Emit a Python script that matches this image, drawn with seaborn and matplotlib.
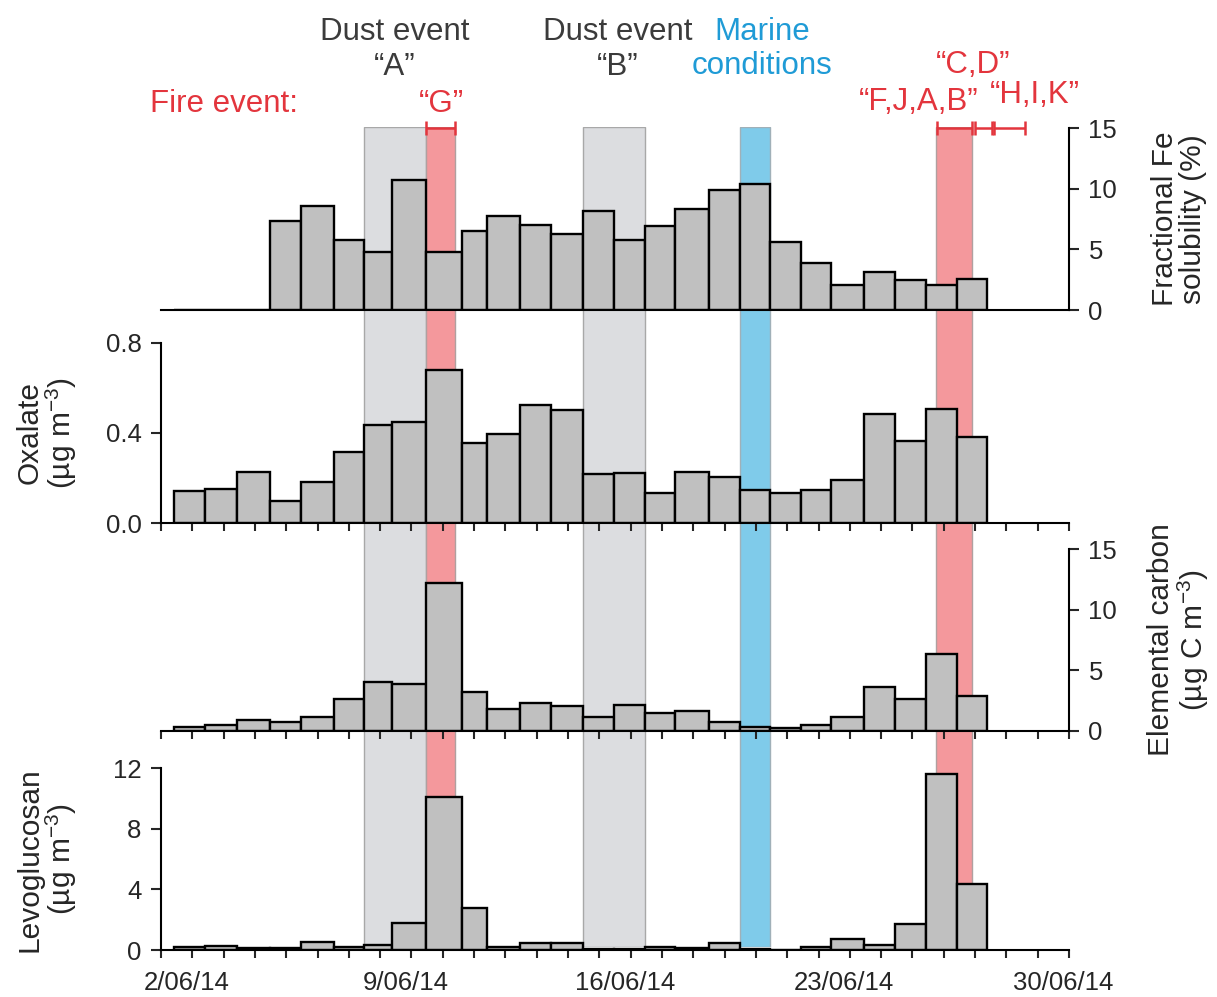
import numpy as np
import pandas as pd
import matplotlib.pyplot as plt
import matplotlib.transforms as mtransforms
import seaborn as sns

# === data: sampling intervals as day of June 2014 (edges), one value per interval ===
edges = [1.40, 2.41, 3.42, 4.47, 5.47, 6.54, 7.49, 8.39, 9.45, 10.62, 11.42, 12.45, 13.44,
         14.48, 15.46, 16.46, 17.43, 18.50, 19.48, 20.45, 21.45, 22.39, 23.46, 24.44,
         25.42, 26.41, 27.39]

fe_solubility = [np.nan, np.nan, np.nan, 7.35, 8.6, 5.8, 4.8, 10.7, 4.75, 6.5, 7.8, 7.05,
                 6.25, 8.2, 5.8, 6.95, 8.35, 9.9, 10.4, 5.65, 3.85, 2.1, 3.15, 2.5, 2.05, 2.55]
oxalate = [0.145, 0.154, 0.229, 0.099, 0.182, 0.316, 0.434, 0.447, 0.679, 0.356, 0.394,
           0.525, 0.500, 0.218, 0.221, 0.136, 0.229, 0.207, 0.149, 0.134, 0.146, 0.190,
           0.484, 0.363, 0.506, 0.382]
elemental_c = [0.33, 0.44, 0.88, 0.69, 1.16, 2.62, 4.0, 3.83, 12.2, 3.23, 1.79, 2.26, 2.04,
               1.13, 2.1, 1.49, 1.65, 0.74, 0.28, 0.19, 0.44, 1.16, 3.64, 2.62, 6.31, 2.9]
levoglucosan = [0.2, 0.29, 0.1, 0.1, 0.5, 0.17, 0.3, 1.76, 10.13, 2.75, 0.2, 0.44, 0.44,
                0.05, 0.08, 0.2, 0.13, 0.44, 0.05, 0.02, 0.2, 0.7, 0.33, 1.74, 11.63, 4.34]

dust_spans = [(7.49, 9.45), (14.48, 16.46)]
fire_spans = [(9.45, 10.39), (25.76, 26.9)]
marine_span = (19.48, 20.45)
fire_ranges = [(9.45, 10.39), (25.78, 26.9), (27.0, 27.53), (27.59, 28.6)]

date_ticks = list(range(1, 31))
date_labels = {2: "2/06/14", 9: "9/06/14", 16: "16/06/14", 23: "23/06/14", 30: "30/06/14"}

RED = "#e3353d"
BLUE = "#1f9bd6"
DARK = "#3b3b3b"

sns.set_theme(style="ticks")
plt.rcParams["font.family"] = ["Liberation Sans", "DejaVu Sans"]
plt.rcParams["mathtext.default"] = "regular"
plt.rcParams["axes.linewidth"] = 1.5
plt.rcParams["axes.edgecolor"] = "black"

fig = plt.figure(figsize=(12.17, 9.97), dpi=100)
W_PX, H_PX = 1217, 997
left, width = 161 / W_PX, 908 / W_PX


def fy(px):
    return 1 - px / H_PX


def box(top_px, bottom_px):
    return [left, fy(bottom_px), width, (bottom_px - top_px) / H_PX]


# === shaded event bands behind all panels ===
bg = fig.add_axes(box(127, 947))
bg.set_xlim(1, 30)
bg.set_ylim(0, 1)
bg.axis("off")
for a, b in dust_spans:
    bg.axvspan(a, b, facecolor="#dcdde0", edgecolor="#a8a8a8", lw=1)
for a, b in fire_spans:
    bg.axvspan(a, b, facecolor="#f4989c", edgecolor="#b0a0a0", lw=1)
bg.axvspan(*marine_span, facecolor="#7fcbea", edgecolor="#a0b0b8", lw=1)

mids = [(a + b) / 2 for a, b in zip(edges[:-1], edges[1:])]

panels = [
    ("fe", fe_solubility, (128.3, 310), (0, 15), [0, 5, 10, 15], "right",
     "Fractional Fe\nsolubility (%)"),
    ("ox", oxalate, (342.7, 523.3), (0, 0.8), [0, 0.4, 0.8], "left",
     "Oxalate\n(µg m$^{-3}$)"),
    ("ec", elemental_c, (549.3, 730.7), (0, 15), [0, 5, 10, 15], "right",
     "Elemental carbon\n(µg C m$^{-3}$)"),
    ("lv", levoglucosan, (768.3, 950), (0, 12), [0, 4, 8, 12], "left",
     "Levoglucosan\n(µg m$^{-3}$)"),
]

axes = {}
for key, vals, (t, b), ylim, yticks, side, label in panels:
    ax = fig.add_axes(box(t, b))
    ax.set_facecolor("none")
    df = pd.DataFrame({"mid": mids, "val": vals}).dropna()
    sns.histplot(data=df, x="mid", weights="val", bins=edges, ax=ax,
                 color="#c0c0c0", edgecolor="black", linewidth=1.7, alpha=1)
    ax.set_xlim(1, 30)
    ax.set_ylim(*ylim)
    ax.set_yticks(yticks)
    if key == "ox":
        ax.set_yticklabels([f"{v:.1f}" for v in yticks])
    ax.set_xlabel("")
    ax.set_ylabel("")
    sns.despine(ax=ax, left=(side == "right"), right=(side == "left"), top=True)
    if side == "right":
        ax.spines["right"].set_visible(True)
        ax.yaxis.tick_right()
    ax.tick_params(axis="y", direction="out", length=7, width=1.5, labelsize=18.5, pad=7)
    if key == "fe":
        ax.tick_params(axis="x", length=0, labelbottom=False)
    else:
        ax.set_xticks(date_ticks)
        ax.tick_params(axis="x", direction="out", length=6, width=1.5, labelsize=18.5, pad=9)
        if key == "lv":
            ax.set_xticklabels([date_labels.get(d, "") for d in date_ticks])
            shift = mtransforms.ScaledTranslation(-6 / 100, 0, fig.dpi_scale_trans)
            for lab in ax.get_xticklabels():
                lab.set_transform(lab.get_transform() + shift)
        else:
            ax.set_xticklabels([])
    xlab = 47 if side == "left" else 1179
    fig.text(xlab / W_PX, fy((t + b) / 2), label, rotation=90, ha="center", va="center",
             multialignment="center", fontsize=21.5, linespacing=1.0)
    axes[key] = ax

# === fire-event range brackets on top of the first panel ===
top = axes["fe"]
fr_mid = [(a + b) / 2 for a, b in fire_ranges]
fr_half = [(b - a) / 2 for a, b in fire_ranges]
top.errorbar(fr_mid, [15] * len(fr_mid), xerr=fr_half, fmt="none", ecolor=RED,
             elinewidth=1.8, capsize=5, capthick=1.8, clip_on=False, zorder=5)

# === annotations above the panels ===
tr = mtransforms.blended_transform_factory(top.transData, fig.transFigure)
fs = 22.5
fig_texts = [
    (8.45, 40.5, "Dust event", DARK, "center"),
    (8.45, 75, "\u201cA\u201d", DARK, "center"),
    (15.6, 40.5, "Dust event", DARK, "center"),
    (15.6, 75, "\u201cB\u201d", DARK, "center"),
    (20.2, 40.5, "Marine", BLUE, "center"),
    (20.2, 74, "conditions", BLUE, "center"),
    (0.65, 111.5, "Fire event:", RED, "left"),
    (9.95, 112, "\u201cG\u201d", RED, "center"),
    (26.95, 73, "\u201cC,D\u201d", RED, "center"),
    (25.2, 110, "\u201cF,J,A,B\u201d", RED, "center"),
    (28.9, 103, "\u201cH,I,K\u201d", RED, "center"),
]
for x, ypx, s, c, ha in fig_texts:
    top.text(x, fy(ypx), s, transform=tr, color=c, fontsize=fs, ha=ha, va="baseline",
             clip_on=False)

plt.savefig("out.png", dpi=100)
